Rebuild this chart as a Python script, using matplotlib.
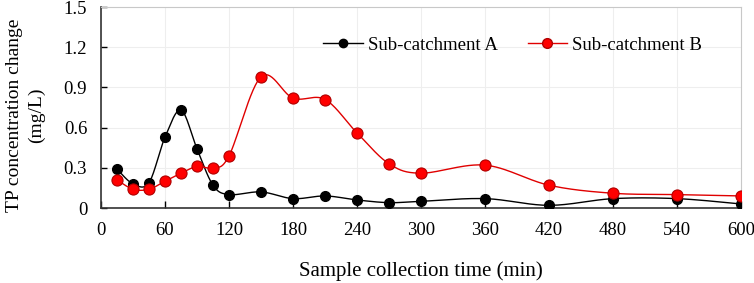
import numpy as np
import matplotlib
matplotlib.use("Agg")
import matplotlib.pyplot as plt

time_min = [15, 30, 45, 60, 75, 90, 105, 120, 150, 180, 210, 240, 270, 300, 360, 420, 480, 540, 600]
sub_a = [0.29, 0.18, 0.19, 0.53, 0.73, 0.44, 0.17, 0.10, 0.12, 0.07, 0.09, 0.06, 0.04, 0.05, 0.07, 0.02, 0.07, 0.07, 0.03]
sub_b = [0.21, 0.14, 0.14, 0.20, 0.26, 0.31, 0.30, 0.39, 0.98, 0.82, 0.81, 0.56, 0.33, 0.26, 0.32, 0.17, 0.11, 0.10, 0.09]
x_ticks = [0, 60, 120, 180, 240, 300, 360, 420, 480, 540, 600]
y_ticks = [0, 0.3, 0.6, 0.9, 1.2, 1.5]
y_tick_labels = ["0", "0.3", "0.6", "0.9", "1.2", "1.5"]

plt.rcParams['font.family'] = ['Liberation Serif', 'DejaVu Serif']


def smooth(x, y, n=30, tension=0.5):
    # Catmull-Rom style curve through the points (like Excel smoothed lines)
    x = np.asarray(x, float)
    y = np.asarray(y, float)
    xs, ys = [], []
    N = len(x)
    for i in range(N - 1):
        p0 = np.array([x[max(i - 1, 0)], y[max(i - 1, 0)]])
        p1 = np.array([x[i], y[i]])
        p2 = np.array([x[i + 1], y[i + 1]])
        p3 = np.array([x[min(i + 2, N - 1)], y[min(i + 2, N - 1)]])
        m1 = (p2 - p0) * tension / 3 * 2 if i > 0 else (p2 - p1) * tension / 3 * 2
        m2 = (p3 - p1) * tension / 3 * 2 if i + 2 < N else (p2 - p1) * tension / 3 * 2
        c1 = p1 + m1 / 2
        c2 = p2 - m2 / 2
        t = np.linspace(0, 1, n)[:, None]
        pts = ((1 - t) ** 3) * p1 + 3 * ((1 - t) ** 2) * t * c1 + 3 * (1 - t) * t ** 2 * c2 + t ** 3 * p2
        xs.append(pts[:, 0])
        ys.append(pts[:, 1])
    return np.concatenate(xs), np.concatenate(ys)


fig = plt.figure(figsize=(7.54, 2.83), dpi=100)
ax = fig.add_axes([0.134, 0.265, 0.849, 0.71])

xa, ya = smooth(time_min, sub_a)
xb, yb = smooth(time_min, sub_b)

ax.plot(xa, ya, color='black', lw=1.0, zorder=3)
ax.plot(time_min, sub_a, 'o', color='black', ms=7, mec='black', zorder=4)
ax.plot(xb, yb, color='#e00000', lw=1.0, zorder=5)
ax.plot(time_min, sub_b, 'o', color='#ff0000', ms=8, mec='#b00000', mew=0.8, zorder=6)

# legend proxies
ax.plot([], [], '-o', color='black', ms=6, lw=1.0, label='Sub-catchment A')
ax.plot([], [], '-o', color='#e00000', mfc='#ff0000', mec='#b00000', ms=7, lw=1.0, label='Sub-catchment B')
ax.legend(loc='center left', bbox_to_anchor=(0.347, 0.81), ncol=2, frameon=False,
          fontsize=13.5, handlelength=2.1, columnspacing=1.6, handletextpad=0.28,
          borderaxespad=0, borderpad=0)

ax.set_xlim(0, 600)
ax.set_ylim(0, 1.5)
ax.set_xticks(x_ticks)
ax.set_yticks(y_ticks)
ax.set_yticklabels(y_tick_labels)
ax.tick_params(axis='x', direction='in', length=5, width=1, labelsize=13.5, pad=10)
ax.tick_params(axis='y', direction='in', length=4, width=1, labelsize=13.5, pad=10)
ax.grid(True, color='#eeeeee', lw=0.8, zorder=0)
ax.set_axisbelow(True)

for s in ['top', 'right']:
    ax.spines[s].set_color('#c8c8c8')
    ax.spines[s].set_linewidth(0.8)
for s in ['left', 'bottom']:
    ax.spines[s].set_color('#333333')
    ax.spines[s].set_linewidth(1.2)

ax.set_xlabel('Sample collection time (min)', fontsize=15, labelpad=16)
ax.set_ylabel('TP concentration change\n(mg/L)', fontsize=14, linespacing=1.3)
ax.yaxis.set_label_coords(-0.088, 0.46)

fig.savefig('out.png', dpi=100)
